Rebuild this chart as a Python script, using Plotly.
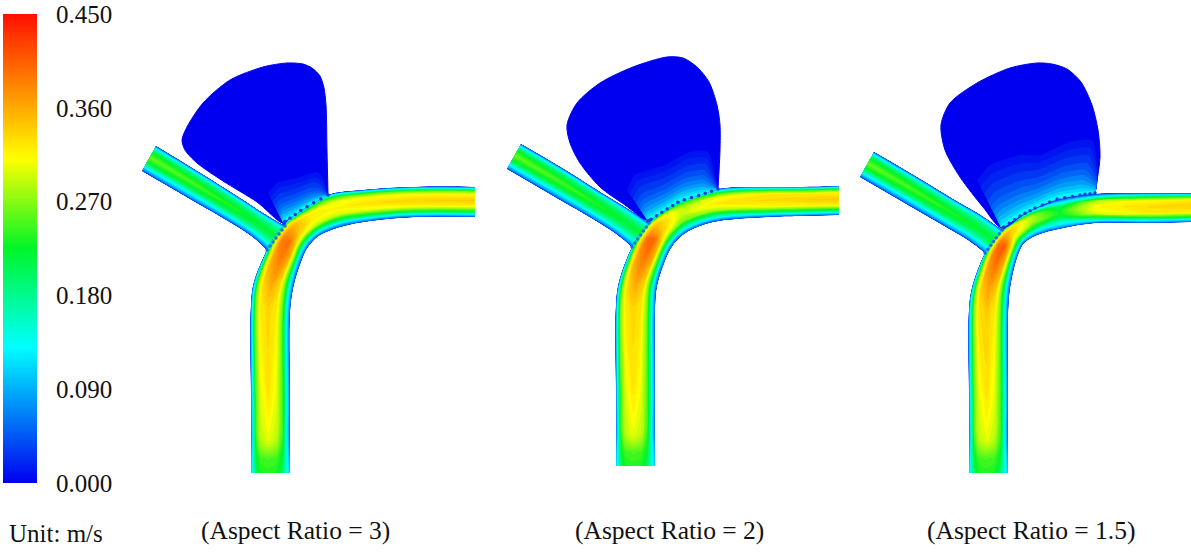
import numpy as np
import plotly.graph_objects as go
from plotly.colors import sample_colorscale

COLORSCALE = [[0, "#0000f0"], [0.29, "#00ffff"], [0.5, "#00f528"], [0.69, "#ffff00"], [1, "#ff1000"]]
VMAX = 0.45
TICK_VALUES = [0.0, 0.09, 0.18, 0.27, 0.36, 0.45]
TICK_LABELS = ["0.000", "0.090", "0.180", "0.270", "0.360", "0.450"]
PANEL_LABELS = ["(Aspect Ratio = 3)", "(Aspect Ratio = 2)", "(Aspect Ratio = 1.5)"]
PANEL_LABEL_X = [295, 669, 1031]
LATERAL = [0, .05, .13, .25, .45, .65, .80, .92, 1]
INLET_V = [
    [.03, .10, .16, .22, .26, .22, .15, .09, .03],
    [.03, .10, .16, .21, .25, .21, .14, .09, .03],
    [.03, .10, .16, .20, .235, .20, .14, .09, .03],
    [.03, .10, .15, .19, .225, .19, .14, .09, .03],
    [.03, .10, .15, .19, .22, .19, .14, .09, .03],
]
CHAMBER_V = [.01, .018, .028, .04, .052, .066, .08, .096, .112, .13]
CHAMBER_T = [0, .14, .28, .42, .54, .64, .73, .81, .88, .94]

# panel 1
P1_OUT_X = [251, 251, 251, 251, 251, 254, 267, 275, 286, 303, 328, 363, 413, 475]
P1_OUT_Y = [473, 458, 440, 400, 305, 282, 250, 236, 223, 210, 195, 190, 187, 187]
P1_IN_X = [290, 290, 290, 290, 290, 294, 302, 306, 311, 320, 340, 370, 415, 475]
P1_IN_Y = [473, 458, 440, 400, 312, 284, 259, 250, 243, 235, 227, 221, 217, 217]
P1_V = [
    [.10, .14, .20, .23, .235, .23, .20, .14, .10],
    [.08, .14, .22, .245, .25, .245, .22, .14, .08],
    [.05, .13, .24, .285, .30, .285, .24, .13, .05],
    [.05, .14, .25, .30, .32, .30, .25, .14, .05],
    [.05, .15, .27, .32, .335, .32, .26, .13, .05],
    [.05, .16, .28, .335, .36, .335, .25, .12, .04],
    [.06, .20, .31, .37, .39, .36, .25, .11, .04],
    [.10, .25, .33, .385, .395, .34, .23, .11, .04],
    [.12, .26, .33, .36, .35, .31, .22, .10, .04],
    [.09, .20, .28, .32, .32, .29, .20, .10, .04],
    [.05, .15, .25, .30, .315, .29, .20, .10, .04],
    [.04, .13, .25, .31, .325, .30, .22, .11, .04],
    [.04, .13, .25, .31, .335, .31, .23, .12, .04],
    [.04, .13, .25, .31, .34, .31, .23, .12, .04],
]
P1_INLET_UP_X = [156, 197, 240, 263, 285]
P1_INLET_UP_Y = [146, 171, 198, 213, 226]
P1_INLET_LO_X = [142, 185, 228, 250, 267]
P1_INLET_LO_Y = [171, 196, 221, 235, 250]
P1_CHAMBER_X = [328, 327, 326, 324, 320, 312, 303, 287, 263, 230, 203, 187, 182, 185, 197, 223, 257, 283, 290, 303]
P1_CHAMBER_Y = [195, 150, 105, 88, 76, 68, 64, 63, 67, 80, 103, 127, 140, 150, 163, 181, 202, 223, 218, 209]
P1_TOP_X = [268, 277, 297, 317, 323, 328]
P1_TOP_Y = [193, 183, 178, 172, 178, 195]
P1_BASE_X = [284, 284, 293, 303, 315, 328]
P1_BASE_Y = [224, 222, 216, 209, 202, 195]

# panel 2
P2_OUT_X = [616, 616, 616, 616, 616, 619, 632, 640, 650, 677, 718, 767, 800, 839]
P2_OUT_Y = [466, 452, 435, 395, 305, 282, 247, 234, 222, 202, 189, 187, 187, 186]
P2_IN_X = [655, 655, 655, 655, 655, 657, 666, 671, 677, 687, 713, 767, 800, 839]
P2_IN_Y = [466, 452, 435, 395, 310, 286, 258, 248, 240, 232, 222, 217, 216, 215]
P2_V = [
    [.10, .14, .20, .23, .235, .23, .20, .14, .10],
    [.08, .14, .22, .245, .25, .245, .22, .14, .08],
    [.05, .13, .24, .285, .30, .285, .24, .13, .05],
    [.05, .14, .25, .30, .32, .30, .25, .14, .05],
    [.05, .15, .27, .32, .335, .32, .26, .13, .05],
    [.05, .16, .28, .335, .36, .335, .25, .12, .04],
    [.06, .20, .31, .375, .395, .36, .25, .11, .04],
    [.10, .25, .33, .39, .40, .34, .23, .11, .04],
    [.12, .26, .33, .35, .34, .30, .21, .10, .04],
    [.06, .16, .25, .29, .29, .26, .18, .10, .04],
    [.04, .12, .23, .30, .32, .28, .19, .10, .04],
    [.04, .13, .25, .32, .33, .31, .23, .12, .04],
    [.04, .13, .25, .32, .335, .31, .23, .12, .04],
    [.04, .13, .25, .32, .34, .32, .23, .12, .04],
]
P2_INLET_UP_X = [521, 562, 605, 628, 649]
P2_INLET_UP_Y = [144, 168, 195, 209, 223]
P2_INLET_LO_X = [507, 550, 593, 615, 632]
P2_INLET_LO_Y = [169, 194, 219, 233, 247]
P2_CHAMBER_X = [718, 720, 720, 717, 709, 697, 683, 667, 633, 600, 577, 567, 570, 580, 600, 625, 647, 655, 677]
P2_CHAMBER_Y = [189, 150, 125, 105, 82, 67, 58, 57, 67, 83, 103, 125, 143, 163, 187, 205, 220, 215, 201]
P2_TOP_X = [627, 635, 665, 690, 708, 718]
P2_TOP_Y = [190, 175, 165, 152, 152, 189]
P2_BASE_X = [648, 650, 665, 680, 700, 718]
P2_BASE_Y = [221, 220, 210, 201, 195, 189]

# panel 3
P3_OUT_X = [969, 969, 969, 969, 969, 972, 985, 993, 1003, 1027, 1057, 1095, 1150, 1191]
P3_OUT_Y = [473, 458, 440, 400, 310, 288, 253, 241, 230, 213, 200, 194, 193, 193]
P3_IN_X = [1008, 1008, 1008, 1008, 1008, 1010, 1015, 1019, 1024, 1037, 1063, 1095, 1150, 1191]
P3_IN_Y = [473, 458, 440, 400, 315, 288, 264, 252, 243, 235, 228, 223, 223, 222]
P3_V = [
    [.10, .14, .20, .23, .235, .23, .20, .14, .10],
    [.08, .14, .22, .245, .25, .245, .22, .14, .08],
    [.05, .13, .24, .285, .30, .285, .24, .13, .05],
    [.05, .14, .25, .30, .32, .30, .25, .14, .05],
    [.05, .15, .27, .325, .34, .32, .26, .13, .05],
    [.05, .16, .28, .34, .365, .34, .25, .12, .04],
    [.06, .20, .31, .38, .40, .36, .25, .11, .04],
    [.10, .25, .33, .395, .405, .34, .23, .11, .04],
    [.12, .26, .33, .35, .33, .28, .20, .10, .04],
    [.07, .16, .25, .29, .28, .23, .15, .09, .04],
    [.03, .08, .14, .20, .23, .20, .14, .10, .04],
    [.02, .08, .16, .28, .31, .30, .22, .12, .04],
    [.03, .10, .22, .31, .33, .32, .24, .12, .04],
    [.03, .10, .24, .32, .335, .32, .24, .12, .04],
]
P3_INLET_UP_X = [874, 915, 958, 982, 1002]
P3_INLET_UP_Y = [152, 176, 202, 216, 230]
P3_INLET_LO_X = [860, 903, 946, 968, 985]
P3_INLET_LO_Y = [177, 202, 227, 240, 253]
P3_CHAMBER_X = [1095, 1100, 1098, 1092, 1081, 1067, 1052, 1037, 1010, 977, 950, 941, 945, 960, 983, 1002, 1027, 1057]
P3_CHAMBER_Y = [193, 157, 130, 105, 82, 69, 64, 63, 68, 83, 103, 125, 150, 177, 207, 228, 212, 199]
P3_TOP_X = [977, 990, 1020, 1040, 1070, 1092, 1098]
P3_TOP_Y = [180, 165, 155, 155, 142, 140, 170]
P3_BASE_X = [1002, 1004, 1020, 1035, 1057, 1080, 1095]
P3_BASE_Y = [229, 227, 216, 208, 199, 195, 193]

PANELS = [
    (P1_OUT_X, P1_OUT_Y, P1_IN_X, P1_IN_Y, P1_V, P1_INLET_UP_X, P1_INLET_UP_Y, P1_INLET_LO_X, P1_INLET_LO_Y,
     P1_CHAMBER_X, P1_CHAMBER_Y, P1_TOP_X, P1_TOP_Y, P1_BASE_X, P1_BASE_Y),
    (P2_OUT_X, P2_OUT_Y, P2_IN_X, P2_IN_Y, P2_V, P2_INLET_UP_X, P2_INLET_UP_Y, P2_INLET_LO_X, P2_INLET_LO_Y,
     P2_CHAMBER_X, P2_CHAMBER_Y, P2_TOP_X, P2_TOP_Y, P2_BASE_X, P2_BASE_Y),
    (P3_OUT_X, P3_OUT_Y, P3_IN_X, P3_IN_Y, P3_V, P3_INLET_UP_X, P3_INLET_UP_Y, P3_INLET_LO_X, P3_INLET_LO_Y,
     P3_CHAMBER_X, P3_CHAMBER_Y, P3_TOP_X, P3_TOP_Y, P3_BASE_X, P3_BASE_Y),
]

fig = go.Figure()
counter = [0]


def color_of(v):
    return sample_colorscale(COLORSCALE, [v / VMAX])[0]


def add_strip(x0, y0, x1, y1, v):
    x0, y0, x1, y1 = map(lambda a: np.array(a, float), (x0, y0, x1, y1))
    lat = np.array(LATERAL)[None, :]
    xs = x0[:, None] + (x1 - x0)[:, None] * lat
    ys = y0[:, None] + (y1 - y0)[:, None] * lat
    counter[0] += 1
    cid = f"c{counter[0]}"
    b = list(range(len(x0)))
    fig.add_trace(go.Carpet(
        carpet=cid, a=LATERAL, b=b, x=xs.tolist(), y=ys.tolist(),
        aaxis=dict(showgrid=False, showticklabels="none", startline=False, endline=False, minorgridcount=0, smoothing=1),
        baxis=dict(showgrid=False, showticklabels="none", startline=False, endline=False, minorgridcount=0, smoothing=1),
        xaxis="x", yaxis="y",
    ))
    fig.add_trace(go.Contourcarpet(
        carpet=cid, a=LATERAL, b=b, z=v, zmin=0, zmax=VMAX, colorscale=COLORSCALE, showscale=False,
        autocontour=False, contours=dict(start=0, end=VMAX, size=0.008, coloring="fill", showlines=False),
        line=dict(width=0), xaxis="x", yaxis="y",
    ))


for (ox, oy, ix, iy, v, ux, uy, lx, ly, cx, cy, tx, ty, bx, by) in PANELS:
    fig.add_trace(go.Scatter(x=cx, y=cy, mode="lines", fill="toself", fillcolor=color_of(0),
                             line=dict(color=color_of(0), width=1, shape="spline", smoothing=0.8), hoverinfo="skip"))
    tx_a, ty_a, bx_a, by_a = map(lambda a: np.array(a, float), (tx, ty, bx, by))
    for val, t in zip(CHAMBER_V, CHAMBER_T):
        px = tx_a + (bx_a - tx_a) * t
        py = ty_a + (by_a - ty_a) * t
        fig.add_trace(go.Scatter(x=list(px) + list(bx_a[::-1]), y=list(py) + list(by_a[::-1]), mode="lines",
                                 fill="toself", fillcolor=color_of(val), line=dict(width=0, shape="spline", smoothing=0.5),
                                 hoverinfo="skip"))
    add_strip(ux, uy, lx, ly, INLET_V)
    add_strip(ox, oy, ix, iy, v)
    # nozzle holes along the chamber / channel and inlet / channel interfaces
    n1 = int(np.hypot(bx[-1] - bx[0], by[-1] - by[0]) / 5)
    dx = np.interp(np.linspace(0, len(bx) - 1, n1), range(len(bx)), bx)
    dy = np.interp(np.linspace(0, len(by) - 1, n1), range(len(by)), by)
    fig.add_trace(go.Scatter(x=dx, y=dy, mode="markers", hoverinfo="skip",
                             marker=dict(size=3.5, color="#0f3ae0", line=dict(width=0))))
    fig.add_trace(go.Scatter(x=np.linspace(lx[-1], ux[-1], 7), y=np.linspace(ly[-1], uy[-1], 7), mode="markers",
                             hoverinfo="skip", marker=dict(size=3.5, color="#1470e8", line=dict(width=0))))

# colour bar
ramp = np.linspace(0, VMAX, 200)
fig.add_trace(go.Heatmap(x=[0, 1], y=ramp, z=[[r, r] for r in ramp], zmin=0, zmax=VMAX, colorscale=COLORSCALE,
                         showscale=False, xaxis="x2", yaxis="y2", hoverinfo="skip"))

SERIF = "Liberation Serif, Times New Roman, serif"
annotations = [dict(x=7, y=533, xref="x", yref="y", text="Unit: m/s", showarrow=False, xanchor="left",
                    font=dict(family=SERIF, size=25, color="#111"))]
for lab, x in zip(PANEL_LABELS, PANEL_LABEL_X):
    annotations.append(dict(x=x, y=530, xref="x", yref="y", text=lab, showarrow=False,
                            font=dict(family=SERIF, size=25.5, color="#111")))

fig.update_layout(
    width=1191, height=554, margin=dict(l=0, r=0, t=0, b=0, autoexpand=False), showlegend=False,
    paper_bgcolor="white", plot_bgcolor="white", annotations=annotations,
    xaxis=dict(range=[0, 1191], domain=[0, 1], visible=False, fixedrange=True),
    yaxis=dict(range=[554, 0], domain=[0, 1], visible=False, fixedrange=True),
    xaxis2=dict(domain=[3 / 1191, 37 / 1191], range=[0, 1], visible=False, anchor="y2"),
    yaxis2=dict(domain=[(554 - 483) / 554, (554 - 14) / 554], range=[0, VMAX], anchor="x2", side="right",
                tickvals=TICK_VALUES, ticktext=TICK_LABELS, ticks="outside", ticklen=13, tickcolor="rgba(0,0,0,0)",
                showgrid=False, zeroline=False, showline=False, automargin=False,
                tickfont=dict(family=SERIF, size=25, color="#111")),
)
fig.write_html("out.html", config=dict(displayModeBar=False),
               post_script="document.body.style.margin='0';document.body.style.overflow='hidden';window.dispatchEvent(new Event('resize'));")
